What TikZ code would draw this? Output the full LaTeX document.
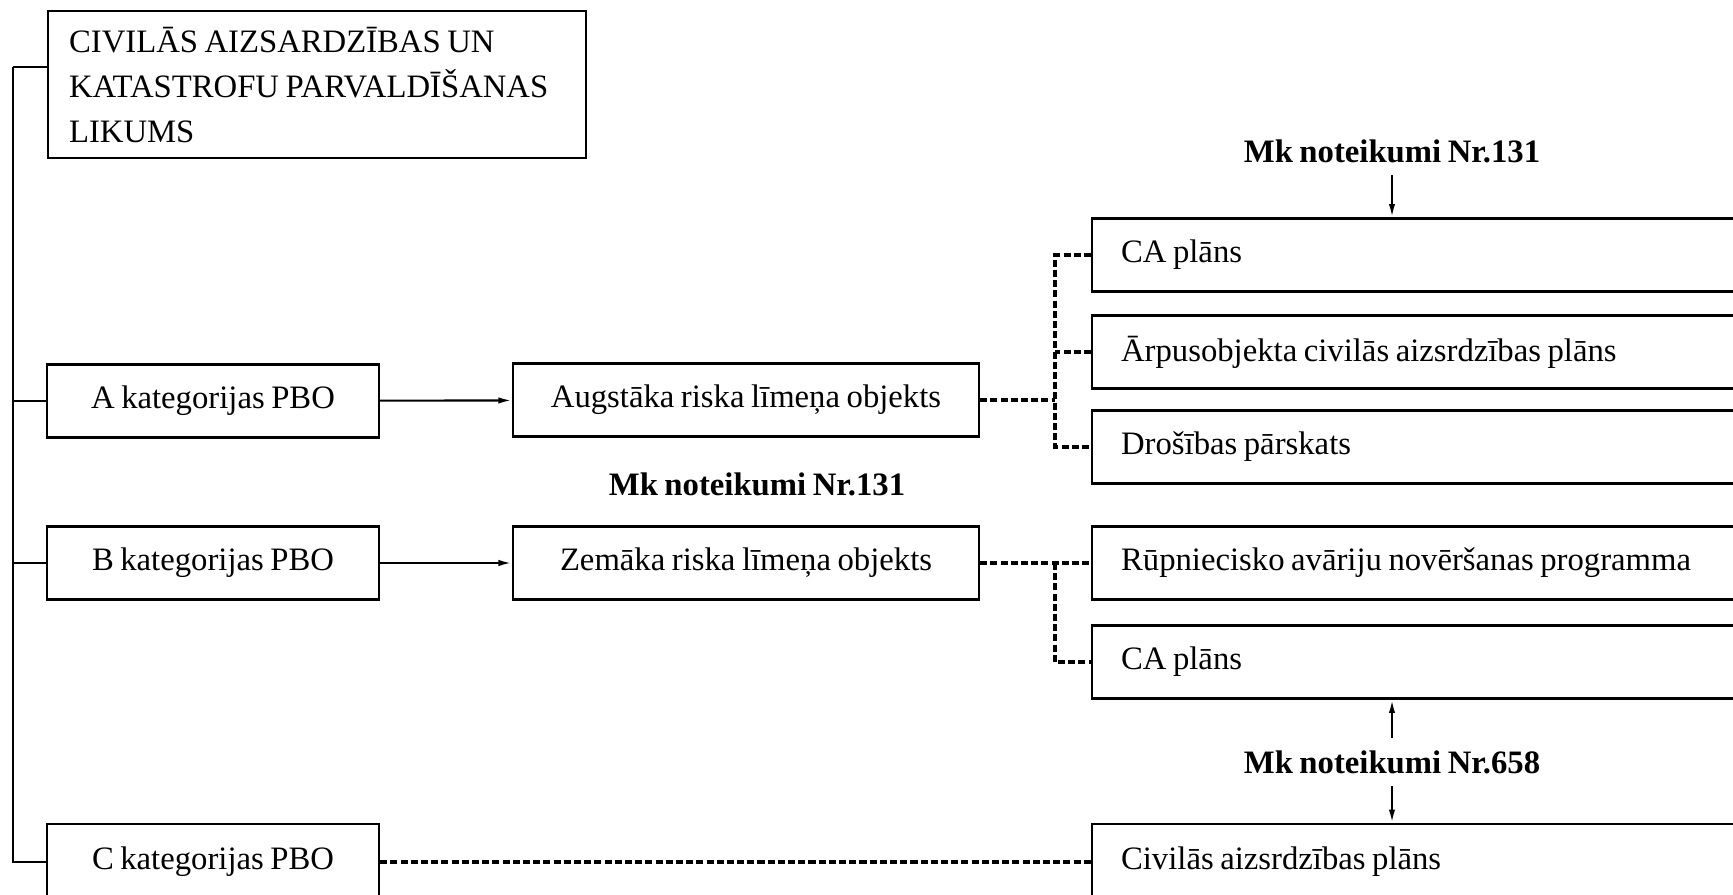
\documentclass[tikz,border=0pt]{standalone}
\usepackage{fontspec}
\setmainfont{Liberation Serif}[WordSpace=0.8]
\usepackage{tikz}
\usetikzlibrary{arrows.meta}

\begin{document}
\begin{tikzpicture}[x=0.01cm, y=-0.01cm, line width=0.6pt,
						>={Latex[length=3.8pt,width=1.8pt]},
						every node/.style={font=\fontsize{9.3}{12}\selectfont},
						box/.style={draw, minimum height=0.73cm, inner sep=0pt},
						wbox/.style={draw, anchor=west, minimum height=0.73cm,
							inner xsep=0.29cm, text width=6.12cm, align=flush left},
						lbl/.style={font=\fontsize{9.3}{12}\bfseries\selectfont},
						dots/.style={line width=1.2pt, dash pattern=on 2pt off 0.9pt}]
					\clip (0,0) rectangle (1733,895);
					\node [draw, anchor=north west, minimum height=1.47cm,
						font=\fontsize{9.3}{12.8}\selectfont,
						text width=4.96cm, inner xsep=0.21cm, align=flush left] (Law) at (47,10)
						{CIVILĀS AIZSARDZĪBAS UN\\KATASTROFU PARVALDĪŠANAS\\LIKUMS};
					\node [box, minimum width=3.32cm] (PA) at (213,401) {A kategorijas PBO};
					\node [box, minimum width=3.32cm] (PB) at (213,563) {B kategorijas PBO};
					\node [box, minimum width=3.32cm, minimum height=0.76cm] (PC) at (213,862) {C kategorijas PBO};
					\node [box, minimum width=4.66cm] (High) at (746,400) {Augstāka riska līmeņa objekts};
					\node [box, minimum width=4.66cm] (Low) at (746,563) {Zemāka riska līmeņa objekts};

					\node [wbox] (Ca1) at (1091,255) {CA plāns};
					\node [wbox] (Arp) at (1091,352) {Ārpusobjekta civilās aizsrdzības plāns};
					\node [wbox] (Dros) at (1091,447) {Drošības pārskats};
					\node [wbox] (Rup) at (1091,563) {Rūpniecisko avāriju novēršanas programma};
					\node [wbox] (Ca2) at (1091,662) {CA plāns};
					\node [wbox, minimum height=0.76cm] (Civ) at (1091,862) {Civilās aizsrdzības plāns};

					\node [lbl] (Mk1) at (1392,151) {Mk noteikumi Nr.131};
					\node [lbl] (Mk2) at (757,484) {Mk noteikumi Nr.131};
					\node [lbl] (Mk3) at (1392,762) {Mk noteikumi Nr.658};

					% left trunk
					\coordinate (top) at (13,67);
					\coordinate (bus) at (1055,0);
					\draw (top) -- (top -| Law.west);
					\draw (top) |- (PC.west);
					\draw (PA.west) -- (PA.west -| top);
					\draw (PB.west) -- (PB.west -| top);

					\path [->] (PA) edge (High);
					\path [->] (PB) edge (Low);

					\draw [dots] (High.east) -- (High.east -| bus);
					\draw [dots] (Ca1.west) -| (bus |- Dros.west) -- (Dros.west);
					\draw [dots] (Arp.west) -- (Arp.west -| bus);
					\draw [dots] (Low.east) -- (Rup.west);
					\draw [dots] (Low.east -| bus) |- (Ca2.west);
					\draw [dots] (PC.east) -- (Civ.west);

					\draw [->] (Mk1.south) -- (Mk1.south |- Ca1.north);
					\draw [->] (Mk3.north) -- (Mk3.north |- Ca2.south);
					\draw [->] (Mk3.south) -- (Mk3.south |- Civ.north);
				\end{tikzpicture}
\end{document}
